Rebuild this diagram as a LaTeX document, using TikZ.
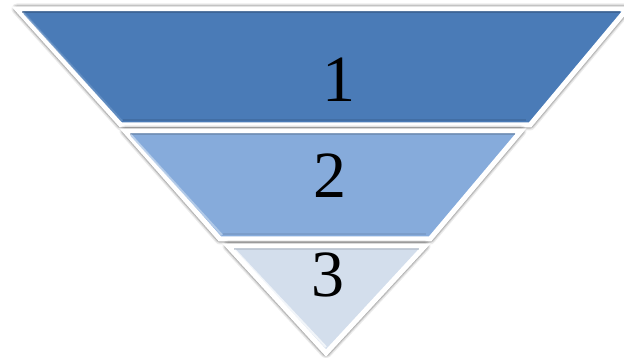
\documentclass[tikz,border=0pt]{standalone}
\usepackage{fontspec}
\setmainfont{Liberation Serif}
\definecolor{bandA}{HTML}{4A7BB7}
\definecolor{bandB}{HTML}{86ABDB}
\definecolor{bandC}{HTML}{D3DEEC}
\tikzset{
  band/.style={draw=white, line width=5pt, line join=miter,
    preaction={draw=black, draw opacity=0.08, line width=11pt, line join=round, xshift=1pt, yshift=-1.5pt},
    preaction={draw=black, draw opacity=0.12, line width=8.5pt, line join=round, xshift=0.8pt, yshift=-1.2pt},
    preaction={draw=black, draw opacity=0.15, line width=6.5pt, line join=round, xshift=0.5pt, yshift=-1pt}},
  bevel/.style={line width=2pt, line cap=butt},
  digit/.style={font=\fontsize{66}{66}\selectfont, text=black, inner sep=0pt}
}
\begin{document}
\begin{tikzpicture}[x=1pt, y=-1pt]
\useasboundingbox (0,0) rectangle (624,358);
% band 1
\path[band, fill=bandA] (17,9) -- (627,9) -- (530,125) -- (121,125) -- cycle;
\draw[bevel, draw=bandA!70!black, opacity=0.6] (22,12.5) -- (620,12.5);
\draw[bevel, draw=bandA!85!white, opacity=0.8] (24,13) -- (122,121);
\draw[bevel, draw=bandA!80!black, opacity=0.5] (123,120.5) -- (526,120.5);
% band 2
\path[band, fill=bandB] (125,131) -- (521,131) -- (430,239) -- (220,239) -- cycle;
\draw[bevel, draw=bandB!70!black, opacity=0.5] (130,134.5) -- (515,134.5);
\draw[bevel, draw=bandB!60!white, opacity=0.9] (131,135) -- (222,235);
\draw[bevel, draw=bandB!85!black, opacity=0.5] (223,234.5) -- (426,234.5);
% band 3
\path[band, fill=bandC] (228,246) -- (425,246) -- (326,353) -- cycle;
\draw[bevel, draw=bandC!80!black, opacity=0.5] (234,249.5) -- (419,249.5);
\draw[bevel, draw=white, opacity=0.7] (235,250) -- (326,347);
% labels
\node[digit] (l1) at (339,80) {1};
\node[digit] (l2) at (330,176) {2};
\node[digit] (l3) at (328,275) {3};
\end{tikzpicture}
\end{document}
